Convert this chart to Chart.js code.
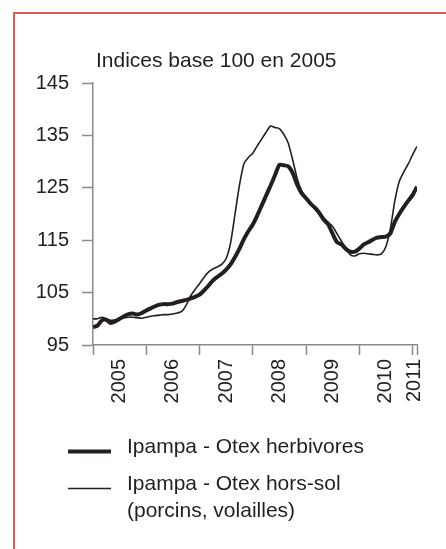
<!DOCTYPE html>
<html>
<head>
<meta charset="utf-8">
<script src="https://cdn.jsdelivr.net/npm/chart.js@4.4.1/dist/chart.umd.min.js"></script>
<style>
  html, body { margin: 0; padding: 0; background: #fff; }
  #wrap { position: relative; width: 446px; height: 549px; overflow: hidden; }
  #cadre { position: absolute; left: 13px; top: 12px; width: 460px; height: 560px;
           border-top: 2px solid #dc5a5a; border-left: 2px solid #dc5a5a; }
  canvas { position: absolute; left: 0; top: 0; }
</style>
</head>
<body>
<div id="wrap">
  <div id="cadre"></div>
  <canvas id="graphique" width="446" height="549"></canvas>
</div>
<script>
// Indices mensuels, janvier 2005 = mois 0
const herbivores = [
  98.4, 98.7, 99.7, 99.8, 99.2, 99.5, 100.0, 100.5, 100.9, 101.0,
  100.8, 101.1, 101.6, 102.0, 102.4, 102.7, 102.8, 102.8, 102.9, 103.2,
  103.4, 103.6, 103.9, 104.2, 104.6, 105.4, 106.3, 107.3, 108.0, 108.6,
  109.4, 110.4, 111.8, 113.4, 115.2, 116.7, 118.0, 119.7, 121.6, 123.5,
  125.4, 127.4, 129.4, 129.3, 129.1, 127.8, 125.6, 124.0, 123.0, 122.0,
  121.2, 120.2, 118.9, 118.0, 116.2, 114.6, 114.2, 113.3, 112.8, 112.8,
  113.4, 114.2, 114.6, 115.1, 115.5, 115.6, 115.7, 116.3, 118.5, 120.0,
  121.3, 122.5, 123.6, 125.2
];
const horsSol = [
  100.0, 100.0, 100.3, 100.0, 99.7, 99.8, 100.0, 100.2, 100.3, 100.3,
  100.2, 100.1, 100.3, 100.5, 100.6, 100.7, 100.8, 100.8, 100.9, 101.1,
  101.4, 102.6, 104.4, 105.6, 106.7, 107.9, 108.9, 109.5, 109.9, 110.4,
  111.5, 114.5, 120.0, 125.5, 129.6, 130.8, 131.6, 133.0, 134.3, 135.6,
  136.8, 136.5, 136.3, 135.2, 133.5, 130.3, 126.8, 124.4, 123.0, 122.0,
  120.9, 120.0, 119.2, 118.4, 117.6, 116.2, 114.8, 113.4, 112.2, 112.0,
  112.4, 112.5, 112.4, 112.3, 112.2, 112.4, 113.8, 117.2, 122.5, 126.2,
  128.0, 129.5, 131.3, 132.9
];

// Axe des x : traits aux changements d'annee, libelles au milieu de l'annee
const bornesAnnees = [0, 12, 24, 36, 48, 60, 72, 73];
const annees = ['2005', '2006', '2007', '2008', '2009', '2010', '2011'];
const positionsAnnees = [6, 18, 30, 42, 54, 66, 72.45];

// Axe des y
const yMin = 95, yMax = 145, yPas = 5;

const titre = 'Indices base 100 en 2005';
const legendeHerb = ['Ipampa - Otex herbivores'];
const legendeHors = ['Ipampa - Otex hors-sol', '(porcins, volailles)'];

const NOIR = '#231f20';
const GRIS = '#8a8a8a';
const POLICE = '"Liberation Sans", Arial, sans-serif';

const points = serie => serie.map((v, i) => ({ x: i, y: v }));

const dessinTexte = {
  id: 'dessinTexte',
  afterDraw(chart) {
    const ctx = chart.ctx;
    ctx.save();
    ctx.fillStyle = NOIR;
    ctx.font = '21px ' + POLICE;
    ctx.textBaseline = 'alphabetic';
    ctx.textAlign = 'left';
    ctx.fillText(titre, 96, 67);

    // legende
    const entrees = [
      { lignes: legendeHerb, ds: chart.data.datasets[0], y: 453 },
      { lignes: legendeHors, ds: chart.data.datasets[1], y: 490 }
    ];
    entrees.forEach(e => {
      ctx.strokeStyle = e.ds.borderColor;
      ctx.lineWidth = e.ds.borderWidth;
      ctx.beginPath();
      ctx.moveTo(68, e.y - 1.5);
      ctx.lineTo(111, e.y - 1.5);
      ctx.stroke();
      e.lignes.forEach((l, k) => {
        ctx.fillText(l, 127, e.y + k * 27);
      });
    });
    ctx.restore();
  }
};

new Chart(document.getElementById('graphique'), {
  type: 'line',
  data: {
    datasets: [
      {
        label: legendeHerb.join(' '),
        data: points(herbivores),
        borderColor: NOIR,
        borderWidth: 4,
        pointRadius: 0,
        tension: 0.2
      },
      {
        label: legendeHors.join(' '),
        data: points(horsSol),
        borderColor: NOIR,
        borderWidth: 1.6,
        pointRadius: 0,
        tension: 0.2
      }
    ]
  },
  options: {
    responsive: false,
    animation: false,
    layout: { padding: { left: 0, top: 83, right: 29, bottom: 124 } },
    plugins: {
      legend: { display: false },
      title: { display: false },
      tooltip: { enabled: false }
    },
    scales: {
      x: {
        type: 'linear',
        min: 0,
        max: 73,
        afterBuildTicks: scale => {
          scale.ticks = bornesAnnees.concat(positionsAnnees)
            .sort((a, b) => a - b)
            .map(v => ({ value: v }));
        },
        afterFit: scale => { scale.height = 80; },
        border: { display: true, color: GRIS, width: 1.5 },
        grid: {
          drawOnChartArea: false,
          tickLength: 10,
          tickWidth: 1.5,
          tickColor: c => bornesAnnees.includes(c.tick.value) ? GRIS : 'rgba(0,0,0,0)'
        },
        ticks: {
          autoSkip: false,
          minRotation: 90,
          maxRotation: 90,
          padding: 4,
          color: NOIR,
          font: { family: POLICE, size: 20 },
          callback: v => {
            const k = positionsAnnees.indexOf(v);
            return k >= 0 ? annees[k] : '';
          }
        }
      },
      y: {
        min: yMin,
        max: yMax,
        afterFit: scale => { scale.width = 93; },
        border: { display: true, color: GRIS, width: 1.5 },
        grid: {
          drawOnChartArea: false,
          tickLength: 11,
          tickWidth: 1.5,
          tickColor: GRIS
        },
        ticks: {
          stepSize: yPas,
          padding: 13,
          color: NOIR,
          font: { family: POLICE, size: 20 },
          callback: v => ((v - yMin) % 10 === 0 ? String(v) : '')
        }
      }
    }
  },
  plugins: [dessinTexte]
});
</script>
</body>
</html>
